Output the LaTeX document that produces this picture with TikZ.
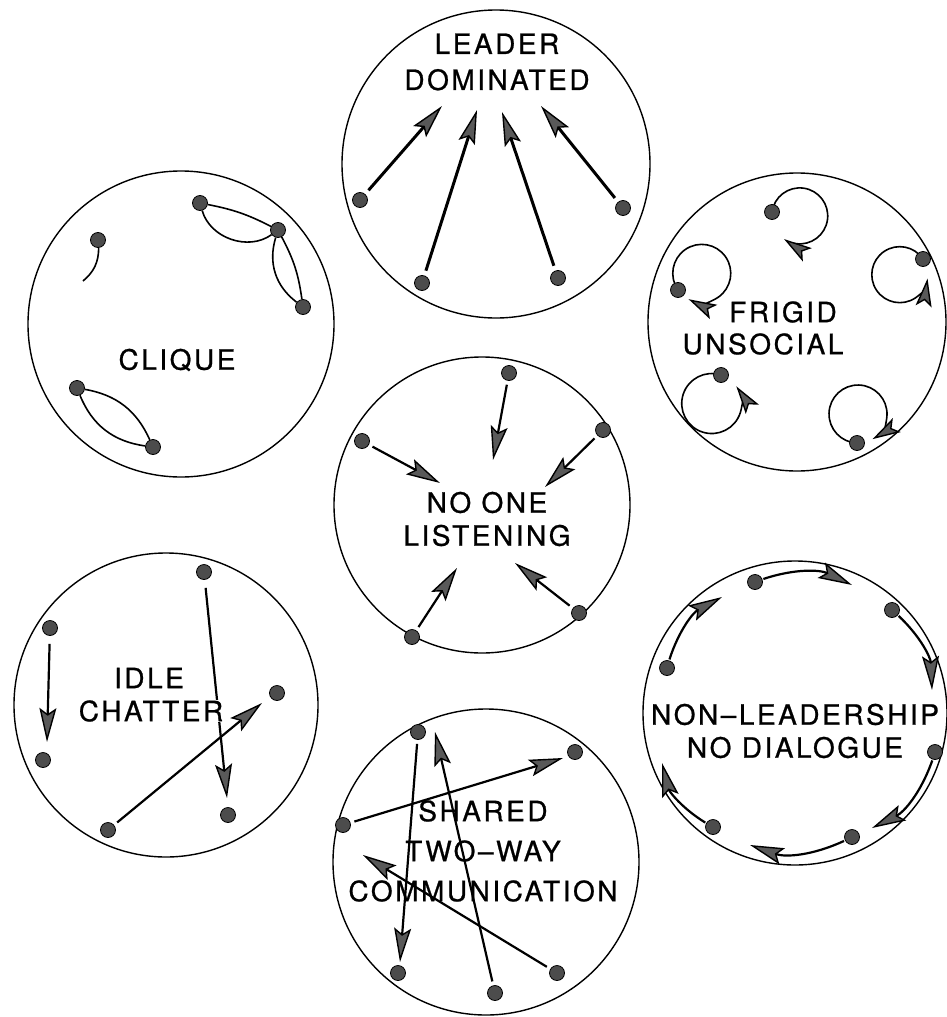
\documentclass[tikz,border=0pt]{standalone}
\usepackage{fontspec}
\newfontfamily\grpfont[LetterSpace=9,FakeBold=0.8]{TeX Gyre Heros}
\usetikzlibrary{arrows.meta,backgrounds}

\begin{document}
\begin{tikzpicture}[
  x=1pt, y=-1pt,
  >={Stealth[length=34pt,width=17pt,inset=6pt,line width=1.4pt,fill=black!65]},
  grp/.style={draw,line width=1.4pt},
  dot/.style={circle,draw,fill=black!70,line width=0.8pt,inner sep=0pt,
    minimum size=15pt},
  lbl/.style={align=center,inner sep=0pt,
    font=\grpfont\fontsize{28}{33}\selectfont},
  arr/.style={->,line width=2.2pt,shorten <=4pt},
  lead/.style={->,line width=3pt,shorten <=5pt},
  selfarr/.style={-{Stealth[length=28pt,width=16pt,inset=6pt,line width=1.4pt,
    fill=black!65]},line width=1.6pt},
  lens/.style={line width=1.6pt}
]
\useasboundingbox (0,0) rectangle (947,1017);

% leader dominated
\draw[grp] (496,164) circle[radius=154];
\node[lbl] (ldr) at (497,62) {LEADER\\[3pt]DOMINATED};
\node[dot] (l1) at (360,200) {};
\node[dot] (l2) at (422,283) {};
\node[dot] (l3) at (558,278) {};
\node[dot] (l4) at (623,208) {};
\coordinate (lt1) at (442,106);
\coordinate (lt2) at (477,110);
\coordinate (lt3) at (502,112);
\coordinate (lt4) at (541,106);
\draw[lead] (l1) -- (lt1);
\draw[lead] (l2) -- (lt2);
\draw[lead] (l3) -- (lt3);
\draw[lead] (l4) -- (lt4);

% clique
\draw[grp] (181,324) circle[radius=153];
\node[lbl] (clq) at (177,360) {CLIQUE};
\node[dot] (q1) at (98,240) {};
\node[dot] (q2) at (200,203) {};
\node[dot] (q3) at (278,230) {};
\node[dot] (q4) at (303,307) {};
\node[dot] (q5) at (77,388) {};
\node[dot] (q6) at (153,447) {};
\coordinate (qt) at (83,281);
\draw[lens] (q1) to[bend left=25] (qt);
\draw[lens] (q2) to[bend left=8] (q3);
\draw[lens] (q2) to[bend right=55] (q3);
\draw[lens] (q3) to[bend right=35] (q4);
\draw[lens] (q3) to[bend left=10] (q4);
\draw[lens] (q5) to[bend left=28] (q6);
\draw[lens] (q5) to[bend right=30] (q6);

% frigid unsocial
\draw[grp] (797,322) circle[radius=149];
\node[lbl] (frg) at (783,312) {FRIGID};
\node[lbl] (uns) at (763,344) {UNSOCIAL};
\node[dot] (f1) at (772,212) {};
\node[dot] (f2) at (678,290) {};
\node[dot] (f3) at (923,259) {};
\node[dot] (f4) at (721,375) {};
\node[dot] (f5) at (857,443) {};
\begin{scope}[on background layer]
\draw[selfarr] (f1.center) arc[start angle=172,end angle=-124,radius=28pt];
\draw[selfarr] (f2.center) arc[start angle=215,end angle=-117,radius=29pt];
\draw[selfarr] (f3.center) arc[start angle=34,end angle=352,radius=28pt];
\draw[selfarr] (f4.center) arc[start angle=72,end angle=395,radius=30pt];
\draw[selfarr] (f5.center) arc[start angle=268,end angle=-60,radius=29pt];
\end{scope}

% no one listening
\draw[grp] (482,505) circle[radius=148];
\node[lbl] (lsn) at (487,519) {NO ONE\\LISTENING};
\node[dot] (n1) at (509,373) {};
\node[dot] (n2) at (362,441) {};
\node[dot] (n3) at (603,430) {};
\node[dot] (n4) at (412,637) {};
\node[dot] (n5) at (579,613) {};
\coordinate (nt1) at (493,460);
\coordinate (nt2) at (440,483);
\coordinate (nt3) at (545,487);
\coordinate (nt4) at (457,568);
\coordinate (nt5) at (515,563);
\draw[arr] (n1) -- (nt1);
\draw[arr] (n2) -- (nt2);
\draw[arr] (n3) -- (nt3);
\draw[arr] (n4) -- (nt4);
\draw[arr] (n5) -- (nt5);

% idle chatter
\draw[grp] (166,705) circle[radius=152];
\node[dot] (i1) at (50,628) {};
\node[dot] (i2) at (43,760) {};
\node[dot] (i3) at (204,572) {};
\node[dot] (i4) at (228,815) {};
\node[dot] (i5) at (277,693) {};
\node[dot] (i6) at (108,830) {};
\coordinate (it1) at (47,742);
\coordinate (it3) at (227,798);
\coordinate (it6) at (262,703);
\draw[arr,shorten <=8pt] (i1) -- (it1);
\draw[arr,shorten <=8pt] (i3) -- (it3);
\draw[arr] (i6) -- (it6);
\node[lbl,fill=white] (idl) at (149,678) {IDLE};
\node[lbl,fill=white] (cht) at (151,711) {CHATTER};

% non-leadership
\draw[grp] (795,713) circle[radius=152];
\node[lbl] (nld) at (795,731) {NON–LEADERSHIP\\NO DIALOGUE};
\node[dot] (d1) at (755,582) {};
\node[dot] (d2) at (892,610) {};
\node[dot] (d3) at (935,752) {};
\node[dot] (d4) at (852,837) {};
\node[dot] (d5) at (713,827) {};
\node[dot] (d6) at (667,668) {};
\coordinate (dt1) at (852,585);
\coordinate (dt2) at (932,690);
\coordinate (dt3) at (872,828);
\coordinate (dt4) at (750,845);
\coordinate (dt5) at (662,763);
\coordinate (dt6) at (722,597);
\draw[arr,shorten <=1pt] (d1) to[bend left=22] (dt1);
\draw[arr,shorten <=1pt] (d2) to[bend left=22] (dt2);
\draw[arr,shorten <=1pt] (d3) to[bend left=22] (dt3);
\draw[arr,shorten <=1pt] (d4) to[bend left=22] (dt4);
\draw[arr,shorten <=1pt] (d5) to[bend left=22] (dt5);
\draw[arr,shorten <=1pt] (d6) to[bend left=22] (dt6);

% shared two-way communication
\draw[grp] (486,862) circle[radius=153];
\node[lbl] (shr) at (483,851) {SHARED\\[7pt]TWO–WAY\\[7pt]COMMUNICATION};
\node[dot] (s1) at (418,732) {};
\node[dot] (s2) at (575,752) {};
\node[dot] (s3) at (343,825) {};
\node[dot] (s4) at (398,973) {};
\node[dot] (s5) at (557,973) {};
\node[dot] (s6) at (495,993) {};
\coordinate (st1) at (400,962);
\coordinate (st3) at (563,758);
\coordinate (st5) at (363,855);
\coordinate (st6) at (435,732);
\draw[arr] (s1) -- (st1);
\draw[arr] (s3) -- (st3);
\draw[arr] (s5) -- (st5);
\draw[arr] (s6) -- (st6);
\end{tikzpicture}
\end{document}
